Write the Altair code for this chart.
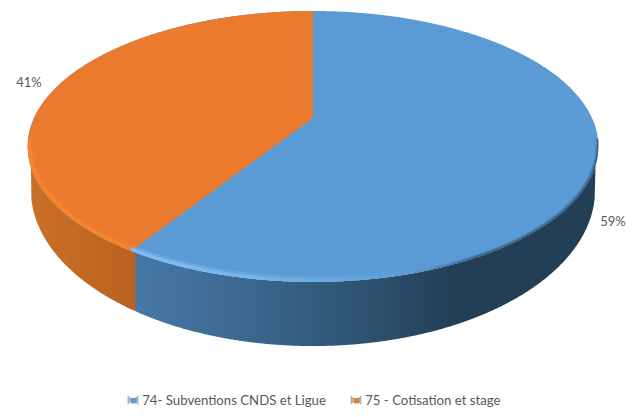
import numpy as np
import pandas as pd
import altair as alt

series = ["74- Subventions CNDS et Ligue", "75 - Cotisation et stage"]
shares = [59, 41]
labels = ["59%", "41%"]
label_x = [613, 29]
label_y = [222, 83]
icon_x = [133, 356]
icon_y = [400, 400]
colors = ["#5b9bd5", "#ea7b2e"]
blue_side_stops = [("#4679a8", 0.0), ("#3e6b94", 0.2), ("#355e82", 0.36), ("#2b4e6b", 0.55), ("#233f56", 0.68), ("#233f56", 1.0)]
orange_side_stops = [("#cb7027", 0.0), ("#c26924", 0.5), ("#b9611f", 1.0)]
blue_rim_stops = [("#8cc8ff", 0.0), ("#7db9ef", 0.45), ("#5b9bd5", 1.0)]
dark_rim_stops = [("#5b9bd5", 0.0), ("#2c4f6c", 0.35), ("#2c4f6c", 1.0)]

CX = 313.0
PERSP = -0.21
SEAM_LEAN = 4.0
RIM_SPLIT = 410.0
TOP = dict(y0=118.0, b=129.5, a=279.0)
BOT = dict(y0=157.2, b=149.2, a=275.8)


def project(theta, p):
    u, v = np.sin(theta), -np.cos(theta)
    w = 1 + PERSP * v
    return CX - p["a"] * u / w, p["y0"] + p["b"] * v / w


def ring(p, inset=0.0):
    t = np.linspace(0, 2 * np.pi, 1441)
    x, y = project(t, p)
    return (x.max() + x.min()) / 2, (y.max() + y.min()) / 2, (x.max() - x.min()) / 2 - inset, (y.max() - y.min()) / 2 - inset


def lower(x, e):
    cx, cy, rx, ry = e
    return cy + ry * np.sqrt(np.clip(1 - ((x - cx) / rx) ** 2, 0, 1))


def upper(x, e):
    cx, cy, rx, ry = e
    return cy - ry * np.sqrt(np.clip(1 - ((x - cx) / rx) ** 2, 0, 1))


top_e = ring(TOP)
bot_e = ring(BOT)
split = 2 * np.pi * shares[1] / sum(shares)
jx, jy = project(np.array([split]), TOP)
jx, jy = float(jx[0]), float(jy[0])
bx = jx + SEAM_LEAN
by = float(lower(np.array([bx]), bot_e)[0])

left = top_e[0] - top_e[2]
right = top_e[0] + top_e[2]

xs = np.linspace(left + 0.001, right - 0.001, 700)
face = pd.DataFrame({"x": xs, "y": upper(xs, top_e), "y2": lower(xs, top_e), "s": series[0]})

xo = np.linspace(left + 0.001, CX, 400)
line_y = TOP["y0"] + (jy - TOP["y0"]) * (CX - xo) / (CX - jx)
sector = pd.DataFrame({"x": xo, "y": upper(xo, top_e), "y2": np.minimum(lower(xo, top_e), line_y), "s": series[1]})

xb = np.concatenate([np.linspace(jx, bx, 12), np.linspace(bx, right, 500)[1:]])
bottom = np.where(xb <= bot_e[0] + bot_e[2], lower(xb, bot_e), lower(xb, top_e))
seam_y = jy + (by - jy) * (xb - jx) / (bx - jx)
bottom = np.where(xb < bx, seam_y, bottom)
side_b = pd.DataFrame({"x": xb, "y": lower(xb, top_e), "y2": bottom})
xl = np.linspace(left, bx, 200)
edge = bot_e[0] - bot_e[2]
bot_y = np.where(xl >= edge, lower(xl, bot_e), lower(xl, top_e))
side_o = pd.DataFrame({"x": xl, "y": lower(xl, top_e), "y2": bot_y})


def band(xa, xz, inset):
    inner = ring(TOP, inset)
    x = np.linspace(xa, xz, 500)
    y_in = np.where(np.abs(x - inner[0]) < inner[2], lower(x, inner), inner[1] - 8)
    y_in = np.minimum(y_in, lower(x, top_e))
    return pd.DataFrame({"x": x, "y": y_in, "y2": lower(x, top_e)})


X = alt.X("x:Q", scale=alt.Scale(domain=[8, 627], nice=False, zero=False), axis=None)
Y = alt.Y("y:Q", scale=alt.Scale(domain=[409, 8], nice=False, zero=False), axis=None, stack=None)


def grad(stops):
    return alt.Gradient(gradient="linear", x1=0, x2=1, y1=0, y2=0,
                        stops=[alt.GradientStop(color=c, offset=o) for c, o in stops])


def area(df, fill, opacity=1.0):
    return alt.Chart(df).mark_area(fill=fill, interpolate="linear", opacity=opacity).encode(X, Y, y2="y2:Q")


color = alt.Color("s:N", scale=alt.Scale(domain=series, range=colors),
                  legend=alt.Legend(orient="none", legendX=119, legendY=386, direction="horizontal", columns=2,
                                    title=None, symbolType="square",
                                    symbolSize=30, symbolStrokeWidth=0, labelFont="Lato", labelFontSize=13.2,
                                    labelColor="#595959", columnPadding=24, labelOffset=2, labelLimit=300))

face_layer = alt.Chart(face).mark_area(interpolate="linear").encode(X, Y, y2="y2:Q", color=color)
sector_layer = alt.Chart(sector).mark_area(interpolate="linear").encode(X, Y, y2="y2:Q", color=color)

text = alt.Chart(pd.DataFrame({"x": label_x, "y": label_y, "t": labels})).mark_text(
    font="Lato", fontSize=13, color="#595959").encode(X, Y, text="t:N")

icons = pd.DataFrame({"x": icon_x, "y": icon_y})
icon_sides = alt.Chart(icons).mark_point(
    shape="M-1,-0.9L0,0L-1,0.9ZM1,-0.9L0,0L1,0.9Z", filled=True, size=120, color="#b4b4b4", opacity=1
).encode(X, Y)

layers = [
    area(side_b, grad(blue_side_stops)),
    area(side_o, grad(orange_side_stops)),
    face_layer,
    sector_layer,
    area(band(left, jx, 7), "#ff8a2e", 0.18),
    area(band(left, jx, 4), "#ff8a2e", 0.55),
    area(band(jx, RIM_SPLIT, 6), grad(blue_rim_stops), 0.3),
    area(band(jx, RIM_SPLIT, 3.5), grad(blue_rim_stops), 0.7),
    area(band(RIM_SPLIT, right, 3), grad(dark_rim_stops), 0.3),
    area(band(RIM_SPLIT, right, 1.5), grad(dark_rim_stops), 0.7),
    icon_sides,
    text,
]

chart = alt.layer(*layers).properties(width=619, height=401, padding=0, autosize="none").configure_view(stroke=None)
chart.save("out.html", embed_options={"renderer": "svg", "actions": False})
